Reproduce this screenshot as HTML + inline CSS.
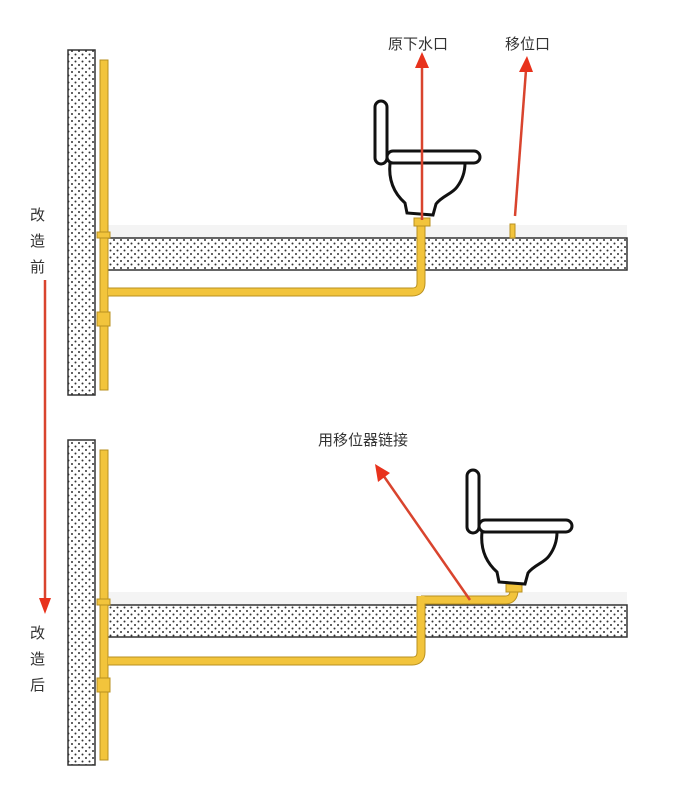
<!DOCTYPE html>
<html><head><meta charset="utf-8"><style>
html,body{margin:0;padding:0;background:#fff;}
svg{display:block}
text{font-family:"Liberation Sans","Noto Sans CJK SC",sans-serif;font-size:15px;fill:#333}
</style></head><body>
<svg width="696" height="789" viewBox="0 0 696 789" xmlns="http://www.w3.org/2000/svg">
<defs>
<pattern id="dots" width="7" height="7" patternUnits="userSpaceOnUse">
<rect width="7" height="7" fill="#fff"/><circle cx="2" cy="2" r="1" fill="#333"/><circle cx="5.5" cy="5.5" r="1" fill="#333"/>
</pattern>
<g id="toilet">
<rect x="375" y="101" width="12" height="63" rx="6" fill="#fff" stroke="#111" stroke-width="3"/>
<path d="M390 163 C388 183 396 195 405 203 L407 213 L433 215 L436 204 C442 196 452 194 457 187 C463 179 465 171 465 163 Z" fill="#fff" stroke="#111" stroke-width="3"/>
<rect x="387" y="151" width="93" height="12" rx="6" fill="#fff" stroke="#111" stroke-width="3"/>
</g>
</defs>
<rect x="107" y="225" width="520" height="13" fill="#f4f4f4"/>
<rect x="107" y="592" width="520" height="13" fill="#f4f4f4"/>
<!-- TOP -->
<rect x="68" y="50" width="27" height="345" fill="url(#dots)" stroke="#333" stroke-width="1.5"/>
<rect x="107" y="238" width="520" height="32" fill="url(#dots)" stroke="#333" stroke-width="1.5"/>
<rect x="100" y="60" width="8" height="330" fill="#f2c43c" stroke="#b89020" stroke-width="1"/>
<rect x="97" y="232" width="13" height="6" fill="#f2c43c" stroke="#b89020"/>
<rect x="97" y="312" width="13" height="14" fill="#f2c43c" stroke="#b89020"/>
<path d="M108 292 L412 292 Q421 292 421 283 L421 225" fill="none" stroke="#b89020" stroke-width="9"/>
<path d="M108 292 L412 292 Q421 292 421 283 L421 225" fill="none" stroke="#f2c43c" stroke-width="7"/>
<rect x="414" y="218" width="16" height="8" fill="#f2c43c" stroke="#b89020"/>
<rect x="510" y="224" width="5" height="14" fill="#f2c43c" stroke="#b89020"/>
<use href="#toilet"/>
<line x1="422" y1="220" x2="422" y2="66" stroke="#d9442e" stroke-width="2.5"/>
<polygon points="422,52 415,68 429,68" fill="#e8321c"/>
<line x1="515" y1="216" x2="526" y2="70" stroke="#d9442e" stroke-width="2.5"/>
<polygon points="527,56 519,72 533,72" fill="#e8321c"/>
<text x="388" y="49">原下水口</text>
<text x="505" y="49">移位口</text>
<text x="30" y="220">改</text><text x="30" y="246">造</text><text x="30" y="272">前</text>
<line x1="45" y1="280" x2="45" y2="600" stroke="#d9442e" stroke-width="2.5"/>
<polygon points="45,614 39,598 51,598" fill="#e8321c"/>
<text x="30" y="638">改</text><text x="30" y="664">造</text><text x="30" y="690">后</text>
<!-- BOTTOM -->
<rect x="68" y="440" width="27" height="325" fill="url(#dots)" stroke="#333" stroke-width="1.5"/>
<rect x="107" y="605" width="520" height="32" fill="url(#dots)" stroke="#333" stroke-width="1.5"/>
<rect x="100" y="450" width="8" height="310" fill="#f2c43c" stroke="#b89020" stroke-width="1"/>
<rect x="97" y="599" width="13" height="6" fill="#f2c43c" stroke="#b89020"/>
<rect x="97" y="678" width="13" height="14" fill="#f2c43c" stroke="#b89020"/>
<path d="M108 661 L412 661 Q421 661 421 652 L421 596" fill="none" stroke="#b89020" stroke-width="9"/>
<path d="M421 600 L505 600 Q514 600 514 590" fill="none" stroke="#b89020" stroke-width="9"/>
<path d="M108 661 L412 661 Q421 661 421 652 L421 596" fill="none" stroke="#f2c43c" stroke-width="7"/>
<path d="M421 600 L505 600 Q514 600 514 590" fill="none" stroke="#f2c43c" stroke-width="7"/>
<rect x="506" y="584" width="16" height="8" fill="#f2c43c" stroke="#b89020"/>
<use href="#toilet" transform="translate(92,369)"/>
<line x1="470" y1="600" x2="383" y2="475" stroke="#d9442e" stroke-width="2.5"/>
<polygon points="375,464 378,482 390,473" fill="#e8321c"/>
<text x="318" y="445">用移位器链接</text>
</svg>
</body></html>
